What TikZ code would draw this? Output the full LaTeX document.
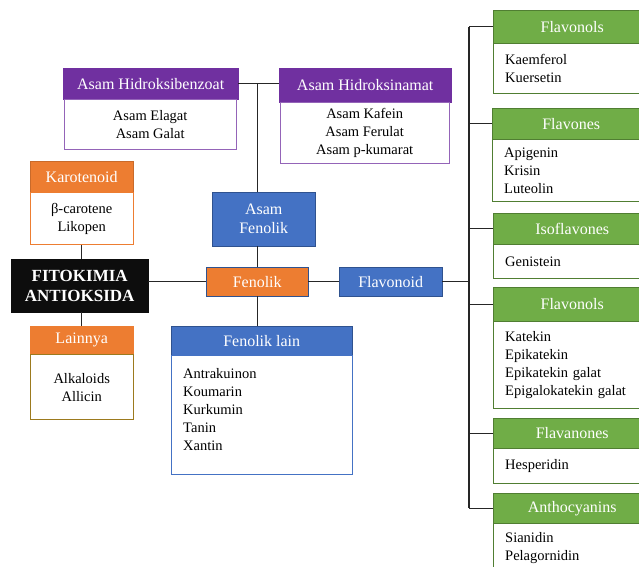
\documentclass[tikz,border=0pt]{standalone}
\usepackage{fontspec}
\setmainfont{Liberation Serif}
\definecolor{oranye}{HTML}{ED7D31}
\definecolor{biru}{HTML}{4472C4}
\definecolor{birutua}{HTML}{2F528F}
\definecolor{ungu}{HTML}{7030A0}
\definecolor{hijau}{HTML}{70AD47}
\definecolor{hijautua}{HTML}{507E32}
\definecolor{emas}{HTML}{9C7A1E}
\begin{document}
\begin{tikzpicture}[x=1pt,y=-1pt,
    kepala/.style={draw,anchor=north west,inner sep=0pt,text=white,align=center,
      font=\fontsize{16}{19}\selectfont},
    isi/.style={draw,fill=white,anchor=north west,inner sep=0pt,align=center,
      font=\fontsize{14.5}{18}\selectfont},
    isikiri/.style={isi,align=left,inner xsep=12pt},
    garis/.style={line width=1.2pt,black!85}]
  \clip (0,0) rectangle (639,566);
  \coordinate (batang) at (469,0);
  % Kotak kiri
  \node[kepala,fill=oranye,draw=oranye!85!black,minimum width=103pt,minimum height=31pt] (karo) at (30,161) {Karotenoid};
  \node[isi,draw=oranye,minimum width=103pt,minimum height=52pt] (karo-isi) at (karo.south west) {β-carotene\\Likopen};
  \node[kepala,fill=black!95,draw=black!95,minimum width=137pt,minimum height=53pt,
    font=\fontsize{17}{20}\selectfont\bfseries] (fito) at (11,259) {FITOKIMIA\\ANTIOKSIDA};
  \node[kepala,fill=oranye,draw=oranye,minimum width=103pt,minimum height=28pt] (lain) at (30,326) {Lainnya};
  \node[isi,draw=emas,minimum width=103pt,minimum height=65pt] (lain-isi) at (lain.south west) {Alkaloids\\Allicin};
  % Fenolik
  \node[kepala,fill=oranye,draw=birutua,minimum width=102pt,minimum height=29pt] (fenolik) at (206,267) {Fenolik};
  \node[kepala,fill=biru,draw=birutua,minimum width=103pt,minimum height=29pt] (flavonoid) at (339,267) {Flavonoid};
  \node[kepala,fill=biru,draw=birutua,minimum width=103pt,minimum height=54pt] (asamfen) at (212,192) {Asam\\Fenolik};
  \node[kepala,fill=ungu,draw=ungu,minimum width=175pt,minimum height=31pt] (hbenz) at (63,68) {Asam Hidroksibenzoat};
  \node[isi,draw=ungu!75,minimum width=172pt,minimum height=50pt] (hbenz-isi) at (64,99) {Asam Elagat\\Asam Galat};
  \node[kepala,fill=ungu,draw=ungu,minimum width=172pt,minimum height=34pt] (hnamat) at (279,68) {Asam Hidroksinamat};
  \node[isi,draw=ungu!75,minimum width=169pt,minimum height=61pt] (hnamat-isi) at (280,102) {Asam Kafein\\Asam Ferulat\\Asam p-kumarat};
  \node[kepala,fill=biru,draw=birutua,minimum width=181pt,minimum height=29pt] (flain) at (171,326) {Fenolik lain};
  \node[isikiri,draw=biru,text width=157pt,minimum height=119pt] (flain-isi) at (flain.south west)
    {Antrakuinon\\Koumarin\\Kurkumin\\Tanin\\Xantin\\[-6pt]\mbox{}};
  % Flavonoid
  \node[kepala,fill=hijau,draw=hijautua,minimum width=158pt,minimum height=33pt] (flv1) at (493,10) {Flavonols};
  \node[isikiri,draw=hijautua,text width=134pt,minimum height=50pt] (flv1-isi) at (flv1.south west) {Kaemferol\\Kuersetin};
  \node[kepala,fill=hijau,draw=hijautua,minimum width=158pt,minimum height=31pt] (flvn) at (492,108) {Flavones};
  \node[isikiri,draw=hijautua,text width=134pt,minimum height=62pt] (flvn-isi) at (flvn.south west) {Apigenin\\Krisin\\Luteolin};
  \node[kepala,fill=hijau,draw=hijautua,minimum width=158pt,minimum height=31pt] (iso) at (493,213) {Isoflavones};
  \node[isikiri,draw=hijautua,text width=134pt,minimum height=34pt] (iso-isi) at (iso.south west) {Genistein};
  \node[kepala,fill=hijau,draw=hijautua,minimum width=158pt,minimum height=34pt] (flv2) at (493,287) {Flavonols};
  \node[isikiri,draw=hijautua,text width=134pt,minimum height=87pt] (flv2-isi) at (flv2.south west)
    {Katekin\\Epikatekin\\Epikatekin galat\\Epigalokatekin galat};
  \node[kepala,fill=hijau,draw=hijautua,minimum width=158pt,minimum height=30pt] (flvnn) at (493,418) {Flavanones};
  \node[isikiri,draw=hijautua,text width=134pt,minimum height=35pt] (flvnn-isi) at (flvnn.south west) {Hesperidin};
  \node[kepala,fill=hijau,draw=hijautua,minimum width=158pt,minimum height=30pt] (antho) at (493,493) {Anthocyanins};
  \node[isikiri,draw=hijautua,text width=134pt,minimum height=48pt] (antho-isi) at (antho.south west) {Sianidin\\Pelagornidin};
  % Garis
  \draw[garis] (karo-isi.south) -- (karo-isi.south |- fito.north);
  \draw[garis] (lain.north |- fito.south) -- (lain.north);
  \draw[garis] (fito.east |- fenolik.west) -- (fenolik.west);
  \draw[garis] (fenolik.east) -- (flavonoid.west);
  \draw[garis] (fenolik.north) -- (fenolik.north |- asamfen.south);
  \draw[garis] (fenolik.north |- asamfen.north) -- (fenolik.north |- hbenz.east);
  \draw[garis] (hbenz.east) -- (hbenz.east -| hnamat.west);
  \draw[garis] (fenolik.south) -- (fenolik.south |- flain.north);
  \draw[garis] (flavonoid.east) -- (flavonoid.east -| batang);
  \draw[garis] (batang |- flv1.west) -- (batang |- antho.west);
  \foreach \n in {flv1,flvn,iso,flv2,flvnn,antho}
    \draw[garis] (batang |- \n.west) -- (\n.west);
\end{tikzpicture}
\end{document}
